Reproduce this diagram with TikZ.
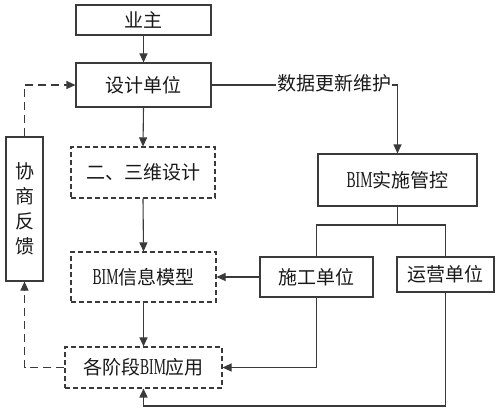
\documentclass[tikz,border=0pt]{standalone}
\usepackage{fontspec}
\setmainfont{Noto Sans CJK SC}
\newfontfamily\bimfont[FakeStretch=0.6,Scale=1.2]{Liberation Serif}
\usetikzlibrary{arrows.meta}
\definecolor{ln}{HTML}{3A3A3A}
\tikzset{
  box/.style={draw=ln, line width=1.1pt, rectangle, inner sep=0pt, font=\fontsize{19}{22}\selectfont, text=black!90},
  dbox/.style={box, dash pattern=on 5pt off 3pt},
  arr/.style={draw=ln, line width=1.1pt, -{Triangle[length=9pt,width=8pt]}},
  ln/.style={draw=ln, line width=1.1pt},
  darr/.style={arr, dash pattern=on 8pt off 5pt},
}
\begin{document}
\begin{tikzpicture}[x=1pt,y=-1pt]
\useasboundingbox[fill=white] (0,0) rectangle (500,412);
\node[box, minimum width=135pt, minimum height=30pt] (yz) at (143.5,20) {业主};
\node[box, minimum width=135pt, minimum height=44pt] (sj) at (143.5,85) {设计单位};
\node[dbox, minimum width=144pt, minimum height=51pt] (sw) at (143,172.5) {二、三维设计};
\node[dbox, minimum width=145pt, minimum height=50pt] (bm) at (143.5,277) {{\bimfont BIM}信息模型};
\node[dbox, minimum width=157pt, minimum height=41pt] (gj) at (143.5,367.5) {各阶段{\bimfont BIM}应用};
\node[box, minimum width=37pt, minimum height=144pt, align=center, font=\fontsize{19}{25}\selectfont] (xs) at (24.5,209) {协\\商\\反\\馈};
\node[box, minimum width=159pt, minimum height=52pt] (bs) at (397.5,180) {{\bimfont BIM}实施管控};
\node[box, minimum width=113pt, minimum height=40pt] (sg) at (316.5,277) {施工单位};
\node[box, minimum width=97pt, minimum height=35pt] (yy) at (445.5,274.5) {运营单位};
\node[font=\fontsize{19}{22}\selectfont, inner sep=1pt, text=black!90] (lbl) at (334,83) {数据更新维护};
\coordinate (jn) at (397.5,225);
\coordinate (cb) at (143.5,406);

\draw[arr] (yz.south) -- (sj.north);
\draw[arr] (sj.south) -- (sw.north);
\draw[arr] (sw.south) -- (bm.north);
\draw[arr] (bm.south) -- (gj.north);
\draw[ln] (sj.east) -- (lbl.west |- sj.east);
\draw[arr] (lbl.east |- sj.east) -| (bs.north);
\draw[ln] (bs.south) -- (jn);
\draw[ln] (sg.north) |- (jn) -| (yy.north);
\draw[arr] (sg.west) -- (bm.east);
\draw[arr] (sg.south) |- (gj.east);
\draw[arr, line width=1.6pt] (yy.south) |- (cb) -- (gj.south);
\draw[darr] (xs.north) |- (sj.west);
\draw[darr] (gj.west) -| (xs.south);
\end{tikzpicture}
\end{document}
